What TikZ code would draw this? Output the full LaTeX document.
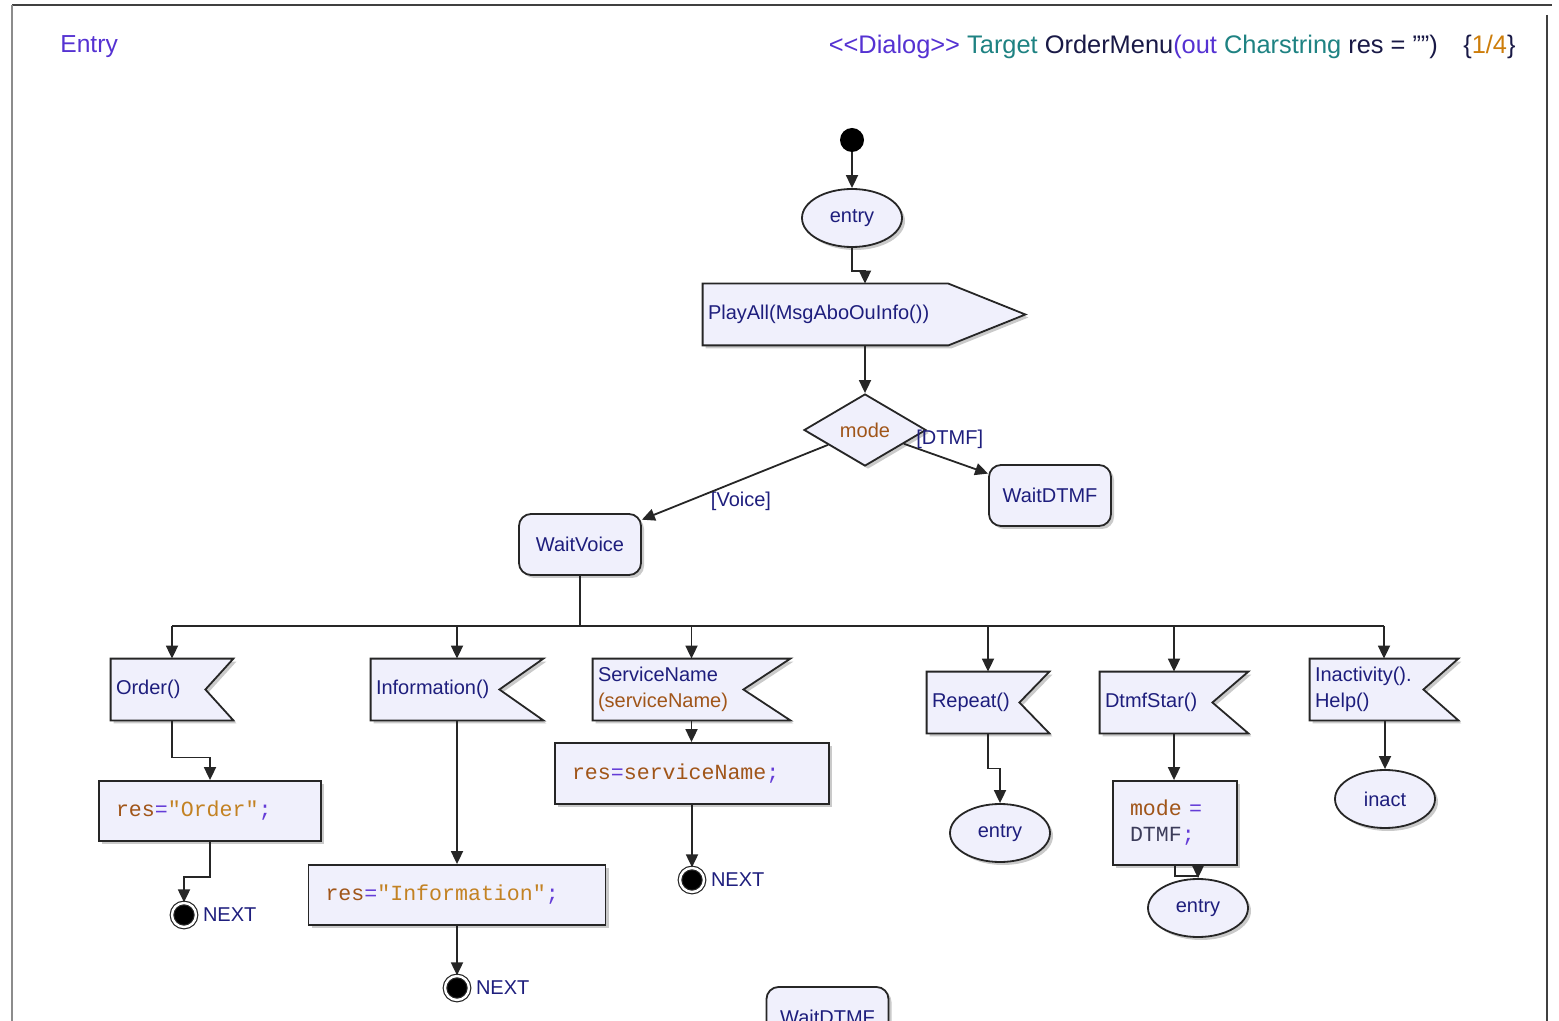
\documentclass[tikz,border=0pt]{standalone}
\usepackage{fontspec}
\setmainfont{Liberation Sans}
\newfontfamily\codefont{Liberation Mono}
\usetikzlibrary{shapes.geometric,arrows.meta,shadows,backgrounds}

\definecolor{boxfill}{RGB}{240,240,252}
\definecolor{labelnavy}{RGB}{30,30,125}
\definecolor{headviolet}{RGB}{85,50,210}
\definecolor{headteal}{RGB}{30,130,130}
\definecolor{headdark}{RGB}{25,25,70}
\definecolor{numorange}{RGB}{205,125,10}
\definecolor{varbrown}{RGB}{160,85,25}
\definecolor{strorange}{RGB}{195,130,35}
\definecolor{oppurple}{RGB}{100,60,215}
\definecolor{constgray}{RGB}{60,60,90}

\newcommand\cvar[1]{\textcolor{varbrown}{#1}}
\newcommand\cop[1]{\textcolor{oppurple}{#1}}
\newcommand\cstr[1]{\textcolor{strorange}{#1}}

% input signal: rectangle with notch cut in on the right
\newcommand\insignal[2]{%
  \draw[sigshape] (#1.north west) -- (#1.north east) -- ([xshift=-#2]#1.east)
    -- (#1.south east) -- (#1.south west) -- cycle;}

\tikzset{
  flow/.style={line width=0.9pt, draw=black!85, -{Triangle[length=6.5pt,width=6pt]}},
  wire/.style={line width=0.9pt, draw=black!85},
  softshadow/.style={drop shadow={shadow xshift=1.5pt, shadow yshift=-1.5pt, fill=black!35, opacity=0.6}},
  basebox/.style={draw=black!85, line width=0.9pt, fill=boxfill, text=labelnavy,
    font=\fontsize{10}{13}\selectfont, softshadow},
  entrypt/.style={basebox, ellipse, minimum width=50pt, minimum height=29pt, inner sep=0pt},
  statebox/.style={basebox, rectangle, rounded corners=6pt, minimum width=61pt, minimum height=30.5pt},
  decision/.style={basebox, diamond, minimum width=61pt, minimum height=36pt, inner sep=0pt},
  taskbox/.style={basebox, rectangle, align=left, inner xsep=8.5pt, inner ysep=0pt,
    font=\codefont\fontsize{10.8}{13}\selectfont},
  sigtext/.style={rectangle, inner xsep=2.5pt, inner ysep=0pt, align=left, text=labelnavy,
    font=\fontsize{10}{13}\selectfont, minimum height=30.5pt},
  sigshape/.style={draw=black!85, line width=0.9pt, fill=boxfill, softshadow},
  nextend/.style={circle, fill=black, draw=black!85, double=white, double distance=1.2pt,
    line width=0.6pt, minimum size=12pt, inner sep=0pt,
    label={[text=labelnavy, font=\fontsize{10}{12}\selectfont, inner sep=1pt, label distance=2pt]right:NEXT}},
  startdot/.style={circle, fill=black, minimum size=12pt, inner sep=0pt},
  guard/.style={text=labelnavy, font=\fontsize{10}{12}\selectfont, inner sep=1pt},
}

\begin{document}
\begin{tikzpicture}[x=0.5pt, y=-0.5pt]
\useasboundingbox (0,0) rectangle (1559,1021);
\clip (0,0) rectangle (1559,1021);

% page frame
\draw[black!75, line width=1pt] (12,5) -- (1552,5);
\draw[black!45, line width=1pt] (12,5) -- (12,1021);
\draw[black!75, line width=1pt] (1547,15) -- (1547,1021);

\node[anchor=west, inner sep=0pt, text=headviolet, font=\fontsize{12.3}{15}\selectfont] (head) at (60,47) {Entry};
\node[anchor=east, inner sep=0pt, font=\fontsize{12.7}{15}\selectfont] (title) at (1516,47)
  {\textcolor{headviolet}{<\kern0pt<Dialog>\kern0pt>} \textcolor{headteal}{Target}
   \textcolor{headdark}{OrderMenu}\textcolor{headviolet}{(out} \textcolor{headteal}{Charstring}
   \textcolor{headdark}{res = "\kern0pt")}\quad\textcolor{headdark}{\{}\textcolor{numorange}{1/4}\textcolor{headdark}{\}}};

\node[startdot] (init) at (852,140) {};
\node[entrypt] (entry1) at (852,218) {entry};
\node[sigtext, text width=117.5pt] (playall) at (825.5,314.5) {PlayAll(MsgAboOuInfo())};
\node[decision] (mode) at (865,430) {\textcolor{varbrown}{mode}};
\node[statebox] (waitdtmf) at (1050,495.5) {WaitDTMF};
\node[statebox] (waitvoice) at (580,544.5) {WaitVoice};
\node[guard, anchor=west] (dtmflbl) at (914,439) {[DTMF]};
\node[guard] (voicelbl) at (741,501) {[Voice]};

\node[sigtext, text width=56pt] (order) at (172,689.5) {Order()};
\node[sigtext, text width=81pt] (info) at (457,689.5) {Information()};
\node[sigtext, text width=93.5pt] (svcname) at (691.5,689.5) {ServiceName\\\textcolor{varbrown}{(serviceName)}};
\node[sigtext, text width=56pt] (repeat) at (988,702.5) {Repeat()};
\node[sigtext, text width=69pt] (dtmfstar) at (1174,702.5) {DtmfStar()};
\node[sigtext, text width=69pt] (inactiv) at (1384,689.5) {Inactivity().\\Help()};

\node[taskbox, text width=94pt, minimum height=30pt] (resorder) at (210,811) {\cvar{res}\cop{=}\cstr{"Order"}\cop{;}};
\node[taskbox, text width=131.5pt, minimum height=30pt] (resinfo) at (457,895) {\cvar{res}\cop{=}\cstr{"Information"}\cop{;}};
\node[taskbox, text width=120pt, minimum height=30.5pt] (ressvc) at (692,773.5) {\cvar{res}\cop{=}\cvar{serviceName}\cop{;}};
\node[taskbox, text width=45pt, minimum height=42pt] (mdtmf) at (1175,823) {\cvar{mode} \cop{=}\\\textcolor{constgray}{DTMF}\cop{;}};

\node[nextend] (next1) at (184,915) {};
\node[nextend] (next2) at (457,988) {};
\node[nextend] (next3) at (692,880) {};
\node[entrypt] (entry2) at (1000,833) {entry};
\node[entrypt] (entry3) at (1198,908) {entry};
\node[entrypt] (inact) at (1385,799) {inact};
\node[statebox] (waitdtmf2) at (827.5,1017.5) {WaitDTMF};

\begin{scope}[on background layer]
  \draw[sigshape] (playall.north west) -- (playall.north east) -- ([xshift=38.5pt]playall.east)
    -- (playall.south east) -- (playall.south west) -- cycle;
  \insignal{order}{14pt}
  \insignal{info}{22pt}
  \insignal{svcname}{23.5pt}
  \insignal{repeat}{15pt}
  \insignal{dtmfstar}{18pt}
  \insignal{inactiv}{17.5pt}
\end{scope}

\draw[flow] (init) -- (entry1);
\draw[flow] (entry1.south) |- ++(13,23) -- (playall.north -| mode.north);
\draw[flow] (playall.south -| mode.north) -- (mode.north);
\draw[flow] (mode) -- (waitdtmf);
\draw[flow] (mode) -- (waitvoice);

\draw[wire] (waitvoice.south) -- ++(0,50) coordinate (bus);
\draw[wire] (order.north |- bus) -- (inactiv.north |- bus);
\foreach \s in {order,info,svcname,repeat,dtmfstar,inactiv}
  \draw[flow] (\s.north |- bus) -- (\s.north);

\draw[flow] (order.south) -- ++(0,37) -| (resorder.north);
\draw[flow] (resorder.south) -- ++(0,35) -| (next1.north);
\draw[flow] (info.south) -- (resinfo.north);
\draw[flow] (resinfo.south) -- (next2.north);
\draw[flow] (svcname.south) -- (ressvc.north -| svcname.south);
\draw[flow] (ressvc.south) -- (next3.north);
\draw[flow] (repeat.south) -- ++(0,35) -| (entry2.north);
\draw[flow] (dtmfstar.south) -- (mdtmf.north -| dtmfstar.south);
\draw[flow] (mdtmf.south) -- ++(0,10) -| (entry3.north);
\draw[flow] (inact.north |- inactiv.south) -- (inact.north);
\end{tikzpicture}
\end{document}
